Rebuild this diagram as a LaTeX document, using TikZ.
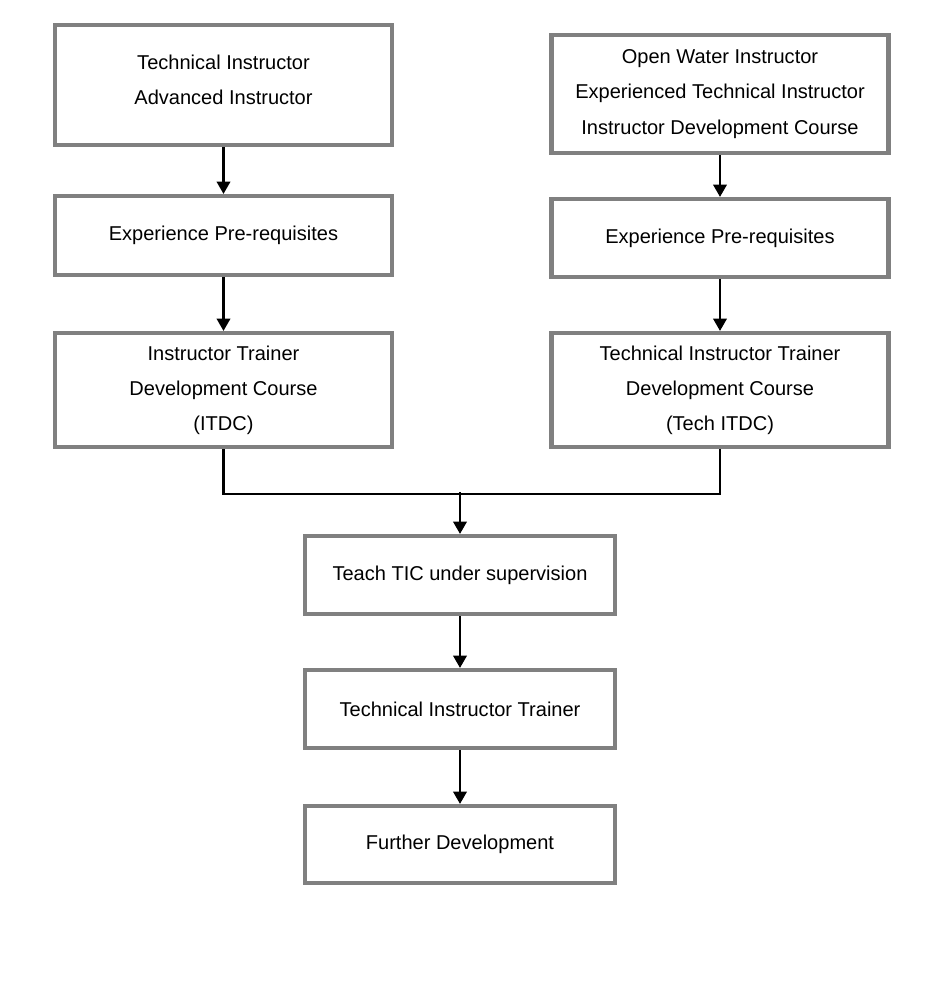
\documentclass[tikz,border=0pt]{standalone}
\usepackage{fontspec}
\setmainfont{Liberation Sans}
\usetikzlibrary{arrows.meta}

\begin{document}
\begin{tikzpicture}[x=0.02cm,y=-0.02cm,
    box/.style={draw=gray, line width=2.3pt, fill=white, align=center,
        font=\fontsize{11.4}{20}\selectfont, inner sep=0pt},
    wide/.style={box, minimum width=337*0.02cm},
    narrow/.style={box, minimum width=310*0.02cm},
    link/.style={line width=1.6pt, -{Triangle[length=7pt,width=7.5pt]}}]
    \useasboundingbox (0,0) rectangle (948,994);
    % left column
    \node[wide, minimum height=120*0.02cm] (tiA) at (223.5,85) {};
    \node (tiAtext) at (223.5,80) [align=center, font=\fontsize{11.4}{20}\selectfont]
        {Technical Instructor\\Advanced Instructor};
    \node[wide, minimum height=79*0.02cm] (expL) at (223.5,235.5)
        {Experience Pre-requisites};
    \node[wide, minimum height=114*0.02cm] (itdc) at (223.5,390)
        {Instructor Trainer\\Development Course\\(ITDC)};
    % right column
    \node[wide, minimum height=118*0.02cm] (owi) at (720,94)
        {Open Water Instructor\\Experienced Technical Instructor\\Instructor Development Course};
    \node[wide, minimum height=78*0.02cm] (expR) at (720,238)
        {Experience Pre-requisites};
    \node[wide, minimum height=114*0.02cm] (titdc) at (720,390)
        {Technical Instructor Trainer\\Development Course\\(Tech ITDC)};
    % middle
    \node[narrow, minimum height=78*0.02cm] (teach) at (460,575)
        {Teach TIC under supervision};
    \node[narrow, minimum height=78*0.02cm] (tit) at (460,709)
        {Technical Instructor Trainer};
    \node[narrow, minimum height=77*0.02cm] (further) at (460,844.5)
        {Further Development};
    \coordinate (join) at (460,492);

    \draw[link] (tiA) -- (expL);
    \draw[link] (expL) -- (itdc);
    \draw[link] (owi) -- (expR);
    \draw[link] (expR) -- (titdc);
    \draw[line width=1.6pt] (itdc.south) -- ++(0,45) -| (titdc.south);
    \draw[link] (join) -- (teach);
    \draw[link] (teach) -- (tit);
    \draw[link] (tit) -- (further);
\end{tikzpicture}
\end{document}
